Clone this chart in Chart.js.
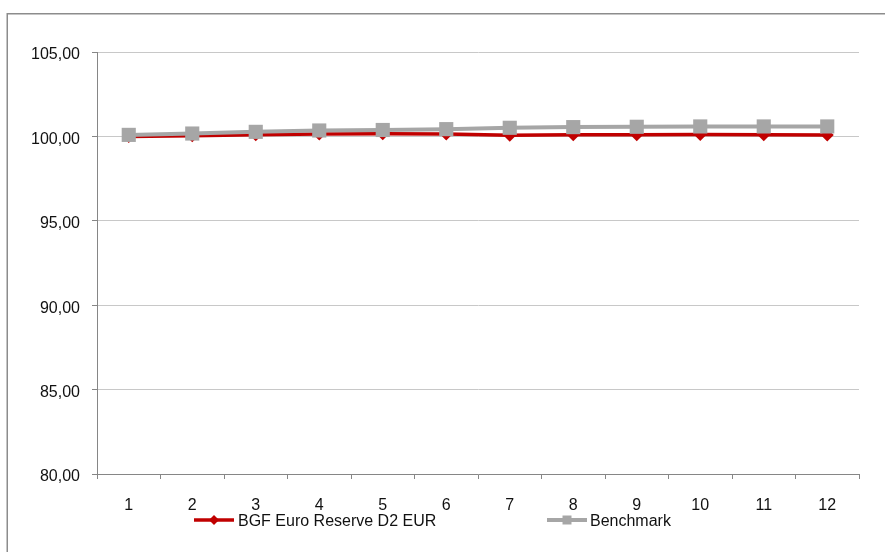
<!DOCTYPE html>
<html>
<head>
<meta charset="utf-8">
<script src="https://cdn.jsdelivr.net/npm/chart.js@4/dist/chart.umd.min.js"></script>
<style>
  html, body { margin: 0; padding: 0; background: #ffffff; }
  #wrap { position: relative; width: 885px; height: 552px; }
</style>
</head>
<body>
<div id="wrap"><canvas id="c" width="885" height="552"></canvas></div>
<script>
const categories = ['1','2','3','4','5','6','7','8','9','10','11','12'];
const fundLabel = 'BGF Euro Reserve D2 EUR';
const fundValues = [100.00, 100.04, 100.10, 100.14, 100.15, 100.14, 100.07, 100.10, 100.10, 100.11, 100.10, 100.08];
const benchLabel = 'Benchmark';
const benchValues = [100.09, 100.17, 100.27, 100.35, 100.38, 100.43, 100.51, 100.55, 100.57, 100.59, 100.59, 100.59];
const yTicks = [80, 85, 90, 95, 100, 105];

const FONT = 'Liberation Sans, Arial, sans-serif';

const frame = {
  id: 'frame',
  beforeDraw(chart) {
    const ctx = chart.ctx;
    ctx.save();
    ctx.fillStyle = '#ffffff';
    ctx.fillRect(0, 0, chart.width, chart.height);
    ctx.strokeStyle = '#8c8c8c';
    ctx.lineWidth = 1.5;
    ctx.strokeRect(7.25, 13.75, 1200, 1200);
    ctx.restore();
  }
};

const legendItems = [
  { ds: 0, lineX: 194, textX: 238 },
  { ds: 1, lineX: 547, textX: 590 }
];
const customLegend = {
  id: 'customLegend',
  afterDraw(chart) {
    const ctx = chart.ctx;
    const y = 520;
    ctx.save();
    legendItems.forEach(it => {
      const ds = chart.data.datasets[it.ds];
      ctx.strokeStyle = ds.borderColor;
      ctx.lineWidth = ds.borderWidth;
      ctx.beginPath();
      ctx.moveTo(it.lineX, y);
      ctx.lineTo(it.lineX + 40, y);
      ctx.stroke();
      ctx.fillStyle = ds.pointBackgroundColor;
      const cx = it.lineX + 20;
      ctx.beginPath();
      if (ds.pointStyle === 'rectRot') {
        const r = 5;
        ctx.moveTo(cx - r, y); ctx.lineTo(cx, y - r); ctx.lineTo(cx + r, y); ctx.lineTo(cx, y + r);
        ctx.closePath();
      } else {
        ctx.rect(cx - 4.5, y - 4.5, 9, 9);
      }
      ctx.fill();
      ctx.fillStyle = '#111111';
      ctx.font = '16px ' + FONT;
      ctx.textBaseline = 'middle';
      ctx.textAlign = 'left';
      ctx.fillText(ds.label, it.textX, y + 1.5);
    });
    ctx.restore();
  }
};

new Chart(document.getElementById('c'), {
  type: 'line',
  data: {
    labels: categories,
    datasets: [
      {
        label: fundLabel,
        data: fundValues,
        borderColor: '#c00000',
        backgroundColor: '#c00000',
        pointBackgroundColor: '#c00000',
        pointBorderColor: '#c00000',
        borderWidth: 3.5,
        pointStyle: 'rectRot',
        pointRadius: 6.5,
        pointBorderWidth: 0,
        tension: 0,
        order: 2
      },
      {
        label: benchLabel,
        data: benchValues,
        borderColor: '#a6a6a6',
        backgroundColor: '#a6a6a6',
        pointBackgroundColor: '#a6a6a6',
        pointBorderColor: '#a6a6a6',
        borderWidth: 4,
        pointStyle: 'rect',
        pointRadius: 10,
        pointBorderWidth: 0,
        tension: 0,
        order: 1
      }
    ]
  },
  options: {
    responsive: false,
    animation: false,
    devicePixelRatio: 1,
    layout: { padding: { left: 0, top: 52, right: 26, bottom: 38 } },
    plugins: { legend: { display: false }, tooltip: { enabled: false } },
    scales: {
      x: {
        offset: true,
        afterFit(scale) { scale.height = 40; },
        grid: { display: true, drawOnChartArea: false, drawTicks: true, tickLength: 5, offset: true, tickColor: '#868686' },
        border: { display: true, color: '#868686', width: 1 },
        ticks: { color: '#111111', font: { family: FONT, size: 16 }, padding: 17, maxRotation: 0, autoSkip: false }
      },
      y: {
        min: 80,
        max: 105,
        afterFit(scale) { scale.width = 97; },
        afterBuildTicks(scale) { scale.ticks = yTicks.map(v => ({ value: v })); },
        grid: { color: '#c8c8c8', lineWidth: 1, drawTicks: true, tickLength: 5, tickColor: '#868686' },
        border: { display: true, color: '#868686', width: 1 },
        ticks: {
          color: '#111111',
          font: { family: FONT, size: 16 },
          padding: 12,
          labelOffset: 3,
          callback: v => Number(v).toFixed(2).replace('.', ',')
        }
      }
    }
  },
  plugins: [frame, customLegend]
});
</script>
</body>
</html>
